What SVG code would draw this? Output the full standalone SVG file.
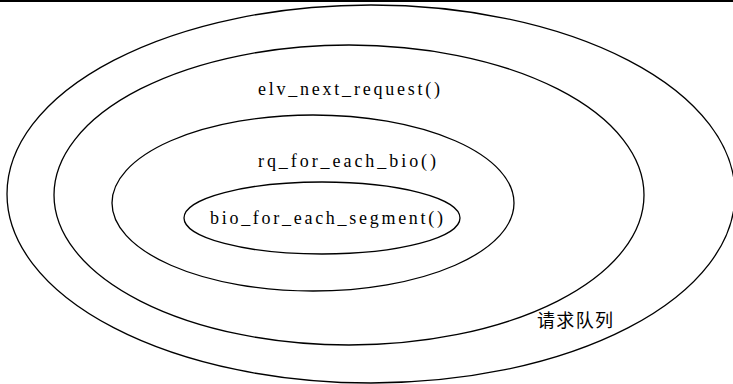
<svg xmlns="http://www.w3.org/2000/svg" width="733" height="384" viewBox="0 0 733 384">
  <style>
    .ring { fill: none; stroke: #000; stroke-width: 1.3; }
    .lbl { font-family: "Liberation Serif", "Times New Roman", serif; font-size: 18px; fill: #000; }
    .cjk { font-family: "Noto Sans CJK SC", "Noto Sans", sans-serif; font-size: 18px; fill: #000; }
  </style>
  <rect x="0" y="0" width="733" height="384" fill="#fff"/>
  <line x1="0" y1="1" x2="733" y2="1" stroke="#000" stroke-width="2"/>
  <g id="queue">
    <ellipse class="ring" cx="371" cy="194" rx="364" ry="189"/>
    <text class="cjk" x="537" y="327" textLength="76" lengthAdjust="spacing">请求队列</text>
  </g>
  <g id="request">
    <ellipse class="ring" cx="349" cy="195" rx="295" ry="150"/>
    <text class="lbl" x="258" y="95" textLength="182" lengthAdjust="spacing">elv_next_request()</text>
  </g>
  <g id="bio">
    <ellipse class="ring" cx="313" cy="203" rx="201" ry="88"/>
    <text class="lbl" x="258" y="167" textLength="178" lengthAdjust="spacing">rq_for_each_bio()</text>
  </g>
  <g id="segment">
    <ellipse class="ring" cx="322" cy="218" rx="138" ry="36"/>
    <text class="lbl" x="210" y="224" textLength="233" lengthAdjust="spacing">bio_for_each_segment()</text>
  </g>
  <g id="connectors"/>
</svg>
